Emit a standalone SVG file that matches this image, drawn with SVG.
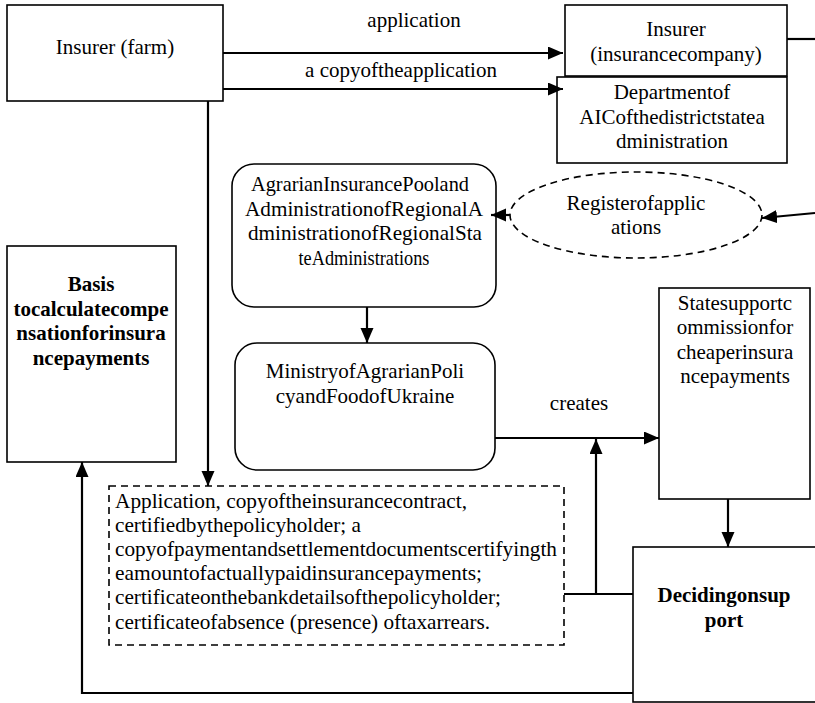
<svg xmlns="http://www.w3.org/2000/svg" width="815" height="703" viewBox="0 0 815 703" font-family="'Liberation Serif', 'Times New Roman', serif">
<style>
text{font-family:'Liberation Serif','Times New Roman',serif;font-size:21px;fill:#000}
.c{text-anchor:middle}
.b{font-weight:bold}
.box{fill:#fff;stroke:#000;stroke-width:1.6}
.dash{fill:#fff;stroke:#000;stroke-width:1.6;stroke-dasharray:7 5}
.ln{fill:none;stroke:#000;stroke-width:2.2}
</style>
<defs>
<marker id="ah" markerUnits="userSpaceOnUse" markerWidth="16" markerHeight="14" refX="15" refY="6.5" orient="auto">
<path d="M0,0 L15,6.5 L0,13 z" fill="#000"/>
</marker>
</defs>
<rect width="815" height="703" fill="#fff"/>

<g id="farm">
<rect class="box" x="7" y="5" width="216" height="96"/>
<text class="c" x="115" y="54">Insurer (farm)</text>
</g>
<g id="company">
<rect class="box" x="565" y="5" width="222" height="71"/>
<text class="c" x="676" y="36">Insurer</text>
<text class="c" x="676" y="61">(insurancecompany)</text>
</g>
<g id="department">
<rect class="box" x="557" y="77" width="230" height="86"/>
<text class="c" x="672" y="99">Departmentof</text>
<text class="c" x="672" y="123.5">AICofthedistrictstatea</text>
<text class="c" x="672" y="148">dministration</text>
</g>
<g id="pool">
<rect class="box" x="232" y="164" width="264" height="143" rx="22"/>
<text class="c" x="360" y="191" textLength="218" lengthAdjust="spacingAndGlyphs">AgrarianInsurancePooland</text>
<text class="c" x="364" y="215.5" textLength="238" lengthAdjust="spacingAndGlyphs">AdministrationofRegionalA</text>
<text class="c" x="365" y="240" textLength="234" lengthAdjust="spacingAndGlyphs">dministrationofRegionalSta</text>
<text class="c" x="364" y="264.5" textLength="131" lengthAdjust="spacingAndGlyphs">teAdministrations</text>
</g>
<g id="register">
<ellipse class="dash" cx="636" cy="215" rx="126" ry="43"/>
<text class="c" x="636" y="210">Registerofapplic</text>
<text class="c" x="636" y="234">ations</text>
</g>
<g id="basis">
<rect class="box" x="7" y="246" width="169" height="216"/>
<text class="c b" x="91" y="291">Basis</text>
<text class="c b" x="91" y="315.5">tocalculatecompe</text>
<text class="c b" x="91" y="340">nsationforinsura</text>
<text class="c b" x="91" y="364.5">ncepayments</text>
</g>
<g id="ministry">
<rect class="box" x="235" y="343" width="260" height="127" rx="22"/>
<text class="c" x="365" y="378">MinistryofAgrarianPoli</text>
<text class="c" x="365" y="402.5">cyandFoodofUkraine</text>
</g>
<g id="commission">
<rect class="box" x="659" y="288" width="151" height="211"/>
<text class="c" x="735" y="310">Statesupportc</text>
<text class="c" x="735" y="334">ommissionfor</text>
<text class="c" x="735" y="358.5">cheaperinsura</text>
<text class="c" x="735" y="383">ncepayments</text>
</g>
<g id="documents">
<rect class="dash" x="109" y="486" width="455" height="159"/>
<text x="115" y="507.5" textLength="352" lengthAdjust="spacingAndGlyphs">Application, copyoftheinsurancecontract,</text>
<text x="115" y="532" textLength="246" lengthAdjust="spacingAndGlyphs">certifiedbythepolicyholder; a</text>
<text x="115" y="556" textLength="442" lengthAdjust="spacingAndGlyphs">copyofpaymentandsettlementdocumentscertifyingth</text>
<text x="115" y="579.5" textLength="367" lengthAdjust="spacingAndGlyphs">eamountofactuallypaidinsurancepayments;</text>
<text x="115" y="603.5" textLength="386" lengthAdjust="spacingAndGlyphs">certificateonthebankdetailsofthepolicyholder;</text>
<text x="115" y="628.5" textLength="375" lengthAdjust="spacingAndGlyphs">certificateofabsence (presence) oftaxarrears.</text>
</g>
<g id="deciding">
<rect class="box" x="633" y="547" width="200" height="155"/>
<text class="c b" x="724" y="602">Decidingonsup</text>
<text class="c b" x="724" y="626.5">port</text>
</g>

<g id="connectors">
<line class="ln" x1="223" y1="53" x2="563" y2="53" marker-end="url(#ah)"/>
<text class="c" x="414" y="27">application</text>
<line class="ln" x1="223" y1="89" x2="563" y2="89" marker-end="url(#ah)"/>
<text class="c" x="401" y="77">a copyoftheapplication</text>
<line class="ln" x1="787" y1="39" x2="815" y2="39"/>
<line class="ln" x1="208" y1="101" x2="208" y2="486" marker-end="url(#ah)"/>
<line class="ln" x1="510" y1="215" x2="491" y2="215" marker-end="url(#ah)"/>
<line class="ln" x1="815" y1="213" x2="762" y2="218" marker-end="url(#ah)"/>
<line class="ln" x1="367" y1="307" x2="367" y2="343" marker-end="url(#ah)"/>
<line class="ln" x1="495" y1="438" x2="659" y2="438" marker-end="url(#ah)"/>
<text class="c" x="579" y="410">creates</text>
<line class="ln" x1="564" y1="594" x2="633" y2="594"/>
<line class="ln" x1="596" y1="594" x2="596" y2="439" marker-end="url(#ah)"/>
<line class="ln" x1="728" y1="499" x2="728" y2="547" marker-end="url(#ah)"/>
<polyline class="ln" points="633,693 82,693 82,462" marker-end="url(#ah)"/>
</g>
</svg>
